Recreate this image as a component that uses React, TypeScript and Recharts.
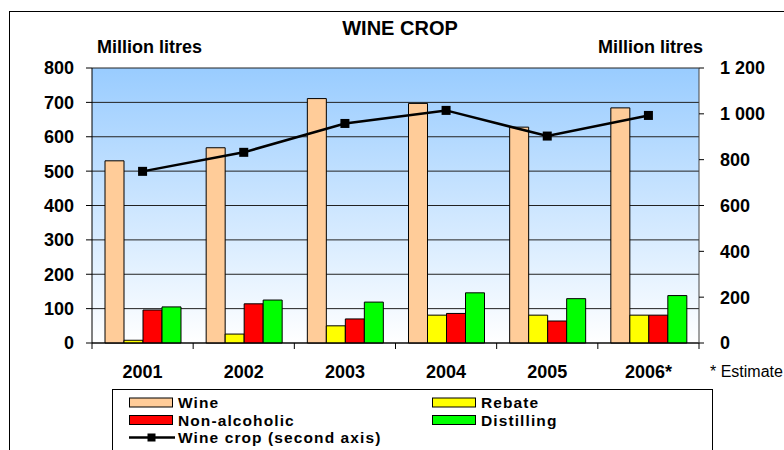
import React from "react";
import { ComposedChart, Bar, Line, XAxis, YAxis, CartesianGrid, Legend } from "recharts";

const years = ["2001", "2002", "2003", "2004", "2005", "2006*"];
const wine = [530, 568, 711, 697, 628, 684];
const rebate = [8, 26, 50, 81, 81, 81];
const nonAlcoholic = [96, 114, 70, 86, 64, 81];
const distilling = [105, 125, 119, 146, 129, 138];
const wineCrop = [749, 832, 958, 1015, 903, 993];
const leftTicks = [0, 100, 200, 300, 400, 500, 600, 700, 800];
const rightTicks = [0, 200, 400, 600, 800, 1000, 1200];

const data = years.map((year, i) => ({
  year,
  wine: wine[i],
  rebate: rebate[i],
  nonAlcoholic: nonAlcoholic[i],
  distilling: distilling[i],
  wineCrop: wineCrop[i],
}));

const W = 784;
const H = 450;
const LEFT_W = 92;
const RIGHT_W = 85;
const BAND = (W - LEFT_W - RIGHT_W) / years.length;
const FONT = "'Liberation Sans', Arial, sans-serif";

const fmtRight = (v: number) =>
  v >= 1000 ? `${Math.floor(v / 1000)} ${String(v % 1000).padStart(3, "0")}` : String(v);

// category label plus tick marks on the band edges, like Excel
function YearTick(props: any) {
  const { x, y, payload, index } = props;
  const last = index === years.length - 1;
  return (
    <g>
      <line x1={x - BAND / 2} x2={x - BAND / 2} y1={y} y2={y + 6} stroke="#000" />
      {last && <line x1={x + BAND / 2} x2={x + BAND / 2} y1={y} y2={y + 6} stroke="#000" />}
      <text x={x} y={y + 35} textAnchor="middle" fontSize={18} fontWeight="bold" fill="#000">
        {payload.value}
      </text>
    </g>
  );
}

const Square = (p: any) => (
  <rect key={p.index} x={p.cx - 4.5} y={p.cy - 4.5} width={9} height={9} fill="#000" />
);

function LegendBox() {
  const sw = (x: number, y: number, fill: string) => (
    <rect x={x} y={y - 4.5} width={43} height={9} fill={fill} stroke="#000" strokeWidth={1} />
  );
  const label = (x: number, y: number, t: string) => (
    <text x={x} y={y + 5.5} fontSize={15.5} letterSpacing={1.1} fontWeight="bold" fill="#000">
      {t}
    </text>
  );
  return (
    <svg width={601} height={80} style={{ display: "block", fontFamily: FONT }}>
      <rect x={0.5} y={0.5} width={600} height={100} fill="#fff" stroke="#000" />
      {sw(17.5, 13.5, "#FFCC99")}
      {label(66, 13.5, "Wine")}
      {sw(320.5, 13.5, "#FFFF00")}
      {label(369, 13.5, "Rebate")}
      {sw(17.5, 31, "#FF0000")}
      {label(66, 31, "Non-alcoholic")}
      {sw(320.5, 31, "#00FF00")}
      {label(369, 31, "Distilling")}
      <line x1={17} x2={63} y1={48.5} y2={48.5} stroke="#000" strokeWidth={2.5} />
      <rect x={35.5} y={44.5} width={8} height={8} fill="#000" />
      {label(66, 48.5, "Wine crop (second axis)")}
    </svg>
  );
}

export default function App() {
  return (
    <div
      style={{
        position: "fixed",
        left: 0,
        top: 0,
        width: W,
        height: H,
        overflow: "hidden",
        background: "#fff",
        fontFamily: FONT,
      }}
    >
      <ComposedChart
        width={W}
        height={H}
        data={data}
        margin={{ top: 68, right: 0, bottom: 0, left: 0 }}
        barCategoryGap={13}
        barGap={0}
        style={{ fontFamily: FONT }}
      >
        <defs>
          <linearGradient id="plotBg" x1="0" y1="0" x2="0" y2="1">
            <stop offset="0%" stopColor="#99CCFF" />
            <stop offset="100%" stopColor="#FFFFFF" />
          </linearGradient>
        </defs>
        <rect x={9.5} y={11.5} width={900} height={600} fill="none" stroke="#000" />
        <CartesianGrid
          yAxisId="left"
          vertical={false}
          fill="url(#plotBg)"
          stroke="#222"
          strokeWidth={1}
        />
        <XAxis
          dataKey="year"
          height={107}
          tickLine={false}
          tickSize={0}
          tickMargin={0}
          axisLine={{ stroke: "#000" }}
          tick={<YearTick />}
          interval={0}
        />
        <YAxis
          yAxisId="left"
          width={LEFT_W}
          domain={[0, 800]}
          ticks={leftTicks}
          tickSize={6}
          tickMargin={12}
          axisLine={{ stroke: "#000" }}
          tickLine={{ stroke: "#000" }}
          tick={{ fontSize: 18, fontWeight: "bold", fill: "#000" }}
        />
        <YAxis
          yAxisId="right"
          orientation="right"
          width={RIGHT_W}
          domain={[0, 1200]}
          ticks={rightTicks}
          tickFormatter={fmtRight}
          tickSize={5}
          tickMargin={16}
          axisLine={{ stroke: "#444" }}
          tickLine={{ stroke: "#000" }}
          tick={{ fontSize: 18, fontWeight: "bold", fill: "#000" }}
        />
        <Bar yAxisId="left" dataKey="wine" name="Wine" fill="#FFCC99" stroke="#000" isAnimationActive={false} />
        <Bar yAxisId="left" dataKey="rebate" name="Rebate" fill="#FFFF00" stroke="#000" isAnimationActive={false} />
        <Bar yAxisId="left" dataKey="nonAlcoholic" name="Non-alcoholic" fill="#FF0000" stroke="#000" isAnimationActive={false} />
        <Bar yAxisId="left" dataKey="distilling" name="Distilling" fill="#00FF00" stroke="#000" isAnimationActive={false} />
        <Line
          yAxisId="right"
          dataKey="wineCrop"
          name="Wine crop (second axis)"
          stroke="#000"
          strokeWidth={2.5}
          dot={Square}
          isAnimationActive={false}
        />
        <Legend
          layout="horizontal"
          verticalAlign="middle"
          align="center"
          wrapperStyle={{ position: "absolute", left: 112, top: 389, width: 601, height: 80 }}
          content={() => <LegendBox />}
        />
        <text x={400} y={35} textAnchor="middle" fontSize={20} fontWeight="bold" fill="#000">
          WINE CROP
        </text>
        <text x={97} y={53} fontSize={18} fontWeight="bold" fill="#000">
          Million litres
        </text>
        <text x={703} y={53} textAnchor="end" fontSize={18} fontWeight="bold" fill="#000">
          Million litres
        </text>
        <text x={710} y={377} fontSize={16} fill="#000">
          * Estimate
        </text>
      </ComposedChart>
    </div>
  );
}
